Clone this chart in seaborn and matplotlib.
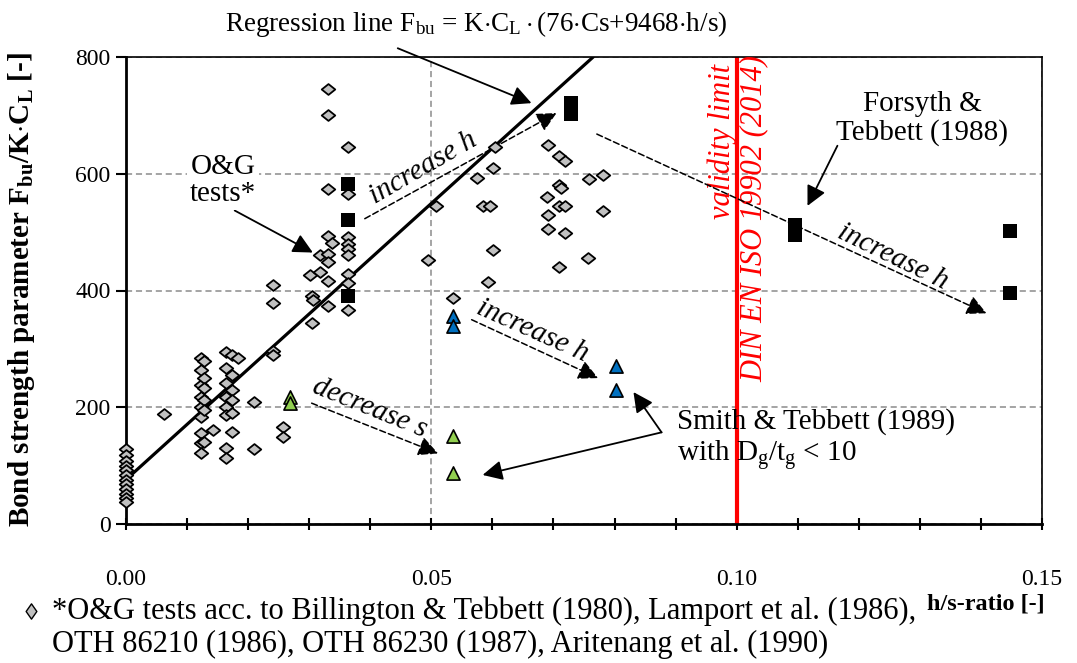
import matplotlib
matplotlib.use("Agg")
import matplotlib.pyplot as plt
import seaborn as sns
import numpy as np
from matplotlib.path import Path
from matplotlib.lines import Line2D
from matplotlib.ticker import MultipleLocator, FixedLocator

# ---------------- data ----------------
og_x = [0, 0, 0, 0, 0, 0, 0, 0, 0, 0, 0, 0,
        0.0062,
        0.0122, 0.0122, 0.0122, 0.0122, 0.0122, 0.0122, 0.0122, 0.0122, 0.0122,
        0.0127, 0.0127, 0.0127, 0.0127, 0.0127, 0.0127,
        0.0142,
        0.0164, 0.0164, 0.0164, 0.0164, 0.0164, 0.0164, 0.0164, 0.0164,
        0.0173, 0.0173, 0.0173, 0.0173, 0.0173, 0.0173,
        0.0183,
        0.0210, 0.0210,
        0.0240, 0.0240, 0.0240, 0.0240,
        0.0257, 0.0257,
        0.0301, 0.0304, 0.0304, 0.0306, 0.0318, 0.0318,
        0.0331, 0.0331, 0.0331, 0.0331, 0.0331, 0.0331, 0.0331, 0.0331, 0.0337,
        0.0363, 0.0363, 0.0363, 0.0363, 0.0363, 0.0363, 0.0363, 0.0363, 0.0363,
        0.0604, 0.0601, 0.0574, 0.0507, 0.0584, 0.0596, 0.0601, 0.0494, 0.0592, 0.0535,
        0.0691, 0.0709, 0.0719, 0.0758, 0.0781, 0.0709, 0.0712, 0.0689, 0.0709,
        0.0719, 0.0781, 0.0691, 0.0691, 0.0719, 0.0756, 0.0709]
og_y = [128, 118, 108, 100, 92, 84, 76, 68, 60, 52, 44, 37,
        188,
        285, 263, 238, 217, 200, 183, 156, 138, 121,
        280, 250, 233, 212, 195, 140,
        161,
        294, 268, 241, 217, 200, 186, 130, 113,
        289, 255, 229, 212, 191, 157,
        284,
        209, 128,
        410, 378, 297, 289,
        167, 149,
        426, 391, 345, 383, 460, 431,
        494, 463, 448, 417, 373, 745, 701, 574, 482,
        491, 480, 471, 460, 429, 412, 366, 646, 566,
        645, 610, 593, 545, 545, 545, 470, 453, 414, 388,
        650, 631, 622, 591, 598, 581, 576, 561, 545,
        544, 537, 530, 506, 499, 455, 440]

sq_x = [0.0363, 0.0363, 0.0363, 0.0728, 0.0728, 0.1095, 0.1095, 0.1448, 0.1448]
sq_y = [583, 520, 390, 722, 703, 512, 495, 502, 395]

blue_x = [0.0535, 0.0535, 0.0802, 0.0802]
blue_y = [357, 340, 270, 229]

green_x = [0.0268, 0.0268, 0.0535, 0.0535]
green_y = [217, 207, 150, 87]

reg_x = [0.0, 0.0765]
reg_y = [76, 800]

x_ticks = [0.00, 0.05, 0.10, 0.15]
x_tick_labels = ["0.00", "0.05", "0.10", "0.15"]
y_ticks = [0, 200, 400, 600, 800]

# ---------------- style ----------------
sns.set_theme(style="white")
plt.rcParams["font.family"] = ["Liberation Serif", "DejaVu Serif"]
plt.rcParams["mathtext.fontset"] = "custom"
plt.rcParams["mathtext.rm"] = "Liberation Serif"
plt.rcParams["mathtext.it"] = "Liberation Serif:italic"
plt.rcParams["mathtext.bf"] = "Liberation Serif:bold"
for k in ["text.color", "axes.labelcolor", "xtick.color", "ytick.color", "axes.edgecolor"]:
    plt.rcParams[k] = "black"

FS = 21
TFS = 17
W, H = 1077, 663
fig = plt.figure(figsize=(W / 100, H / 100), dpi=100)
ax = fig.add_axes([126 / W, 1 - 524 / H, (1042 - 126) / W, (524 - 57) / H])

diamond = Path([(-1, 0), (0, 0.8), (1, 0), (0, -0.8), (-1, 0)],
               [Path.MOVETO, Path.LINETO, Path.LINETO, Path.LINETO, Path.CLOSEPOLY])

# regression line
sns.lineplot(x=reg_x, y=reg_y, ax=ax, color="black", linewidth=2.3, zorder=3)

sns.scatterplot(x=og_x, y=og_y, ax=ax, marker=diamond, s=95, color="#C0C0C0",
                edgecolor="black", linewidth=1.3, zorder=4, clip_on=False)
sns.scatterplot(x=sq_x, y=sq_y, ax=ax, marker="s", s=105, color="black",
                edgecolor="black", linewidth=0, zorder=5)
sns.scatterplot(x=blue_x, y=blue_y, ax=ax, marker="^", s=90, color="#0070C0",
                edgecolor="black", linewidth=1.2, zorder=5)
sns.scatterplot(x=green_x, y=green_y, ax=ax, marker="^", s=90, color="#92D050",
                edgecolor="black", linewidth=1.2, zorder=5)

# validity limit
ax.axvline(0.10, color="#FF0000", linewidth=3, zorder=2.5)

ax.set_xlim(0, 0.15)
ax.set_ylim(0, 800)
ax.xaxis.set_major_locator(FixedLocator(x_ticks))
ax.set_xticklabels(x_tick_labels)
ax.xaxis.set_minor_locator(MultipleLocator(0.01))
ax.yaxis.set_major_locator(FixedLocator(y_ticks))
ax.set_xlabel("")
ax.set_ylabel("")

ax.grid(True, which="major", color="#8C8C8C", linestyle=(0, (4, 2.5)), linewidth=1.1)
ax.set_axisbelow(True)

for side in ["left", "bottom"]:
    ax.spines[side].set_color("black")
    ax.spines[side].set_linewidth(2)
for side in ["top", "right"]:
    ax.spines[side].set_color("black")
    ax.spines[side].set_linewidth(1.2)

ax.tick_params(axis="x", which="both", direction="inout", length=9, width=1.5,
               bottom=True, pad=28, labelsize=TFS, colors="black")
ax.tick_params(axis="y", which="major", direction="out", length=7, width=1.5,
               left=True, pad=4, labelsize=TFS, colors="black")

# ---------------- annotations ----------------
solid = dict(arrowstyle="-|>,head_length=1.0,head_width=0.5", color="black",
             linewidth=1.3, shrinkA=0, shrinkB=0)
dashed = dict(arrowstyle="-|>,head_length=1.0,head_width=0.5", color="black",
              linewidth=1.1, linestyle=(0, (4, 2)), shrinkA=0, shrinkB=0)

fig.text(476 / W, 1 - 24 / H,
         r"Regression line F$_{\mathrm{bu}}$ = K$\cdot$C$_{\mathrm{L}}\cdot$(76$\cdot$Cs+9468$\cdot$h/s)",
         ha="center", va="center", fontsize=19.5)
ax.annotate("", xy=(0.0664, 721), xytext=(0.0445, 815), arrowprops=solid,
            annotation_clip=False)

ax.text(0.0159, 588, "O&G\ntests*", ha="center", va="center", fontsize=FS,
        linespacing=1.05, zorder=6,
        bbox=dict(facecolor="white", edgecolor="none", pad=2))
ax.annotate("", xy=(0.0306, 465), xytext=(0.0178, 537), arrowprops=solid)

ax.annotate("", xy=(0.0705, 704), xytext=(0.0391, 523), arrowprops=dashed)
ax.text(0.0486, 610, "increase h", rotation=30, ha="center", va="center",
        fontsize=FS, style="italic")

ax.annotate("", xy=(0.0773, 250), xytext=(0.0566, 350), arrowprops=dashed)
ax.text(0.0666, 330, "increase h", rotation=-24, ha="center", va="center",
        fontsize=FS, style="italic")

ax.annotate("", xy=(0.0511, 121), xytext=(0.0304, 207), arrowprops=dashed)
ax.text(0.0399, 198, "decrease s", rotation=-22, ha="center", va="center",
        fontsize=FS, style="italic")

ax.annotate("", xy=(0.1409, 361), xytext=(0.0771, 668), arrowprops=dashed, zorder=4)
ax.text(0.1255, 458, "increase h", rotation=-26, ha="center", va="center",
        fontsize=FS, style="italic")

ax.text(0.1304, 694, "Forsyth &\nTebbett (1988)", ha="center", va="center",
        fontsize=FS, linespacing=1.1)
ax.annotate("", xy=(0.1116, 545), xytext=(0.1165, 648), arrowprops=solid)

ax.text(0.0903, 144, "Smith & Tebbett (1989)\nwith D$_{\\mathrm{g}}$/t$_{\\mathrm{g}}$ < 10",
        ha="left", va="center", fontsize=FS, linespacing=1.1)
ax.annotate("", xy=(0.0831, 226), xytext=(0.0877, 157), arrowprops=solid)
ax.annotate("", xy=(0.0584, 84), xytext=(0.0877, 157), arrowprops=solid)

ax.text(0.0977, 655, "validity limit", rotation=90, ha="center", va="center",
        fontsize=FS + 1, style="italic", color="#FF0000")
ax.text(0.1029, 523, "DIN EN ISO 19902 (2014)", rotation=90, ha="center", va="center",
        fontsize=FS + 1, style="italic", color="#FF0000")

# axis labels
fig.text(22 / W, 1 - 290 / H,
         r"Bond strength parameter F$_{\mathbf{bu}}$/K$\cdot$C$_{\mathbf{L}}$ [-]",
         rotation=90, ha="center", va="center", fontsize=FS, fontweight="bold")
fig.text(986 / W, 1 - 604 / H, "h/s-ratio [-]", ha="center", va="center",
         fontsize=17.5, fontweight="bold")

# footnote legend
fig.add_artist(Line2D([31 / W], [1 - 611 / H], transform=fig.transFigure,
                      marker=Path([(-0.7, 0), (0, 1), (0.7, 0), (0, -1), (-0.7, 0)],
                                  [Path.MOVETO, Path.LINETO, Path.LINETO, Path.LINETO,
                                   Path.CLOSEPOLY]),
                      markersize=11, markerfacecolor="#C0C0C0",
                      markeredgecolor="black", markeredgewidth=1.0, linestyle="none"))
fig.text(52 / W, 1 - 611 / H,
         "*O&G tests acc. to Billington & Tebbett (1980), Lamport et al. (1986),",
         ha="left", va="center", fontsize=22)
fig.text(52 / W, 1 - 644 / H,
         "OTH 86210 (1986), OTH 86230 (1987), Aritenang et al. (1990)",
         ha="left", va="center", fontsize=22)

fig.savefig("out.png", dpi=100)
